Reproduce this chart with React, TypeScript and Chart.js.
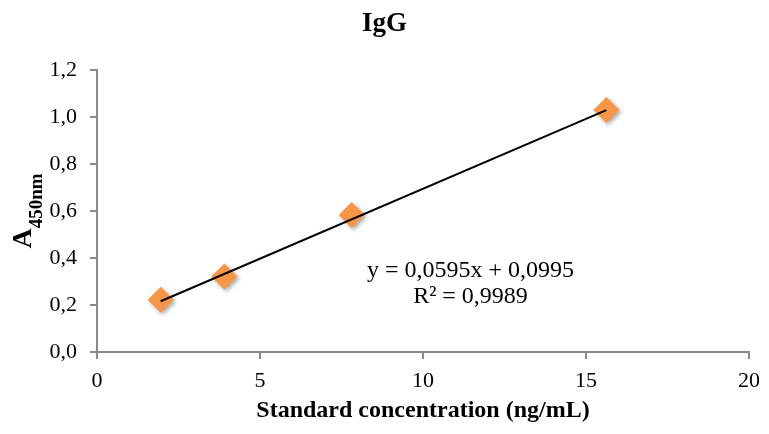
import React, { useEffect, useRef } from 'react';
import { Chart, registerables } from 'chart.js';

Chart.register(...registerables);

// ---- data ----
const CONCENTRATION = [1.953, 3.906, 7.8125, 15.625];
const ABSORBANCE = [0.222, 0.321, 0.583, 1.03];
const TREND_X = [1.953, 15.625];
const TREND_Y = [0.216, 1.029];
const X_TICKS = [0, 5, 10, 15, 20];
const X_TICK_LABELS = ['0', '5', '10', '15', '20'];
const Y_TICKS = [0, 0.2, 0.4, 0.6, 0.8, 1.0, 1.2];
const Y_TICK_LABELS = ['0,0', '0,2', '0,4', '0,6', '0,8', '1,0', '1,2'];
const TITLE = 'IgG';
const X_TITLE = 'Standard concentration (ng/mL)';
const Y_TITLE = 'A';
const Y_TITLE_SUB = '450nm';
const EQUATION_LINES = ['y = 0,0595x + 0,0995', 'R² = 0,9989'];

const SERIF = "'Liberation Serif', 'Times New Roman', serif";
const AXIS_GRAY = '#898989';
const MARKER = '#F79646';

const textPlugin = {
  id: 'textPlugin',
  afterDraw(chart: any) {
    const ctx = chart.ctx as CanvasRenderingContext2D;
    const ca = chart.chartArea;
    ctx.save();
    ctx.fillStyle = '#000';

    // title
    ctx.font = `bold 27px ${SERIF}`;
    ctx.textAlign = 'center';
    ctx.textBaseline = 'alphabetic';
    ctx.fillText(TITLE, chart.width / 2, 31);

    // x title
    ctx.font = `bold 24px ${SERIF}`;
    ctx.textBaseline = 'middle';
    ctx.fillText(X_TITLE, (ca.left + ca.right) / 2, 411);

    // equation
    ctx.font = `24px ${SERIF}`;
    ctx.textBaseline = 'alphabetic';
    ctx.fillText(EQUATION_LINES[0], 470.5, 277);
    ctx.fillText(EQUATION_LINES[1], 470.5, 303);

    // y title, rotated, with subscript
    ctx.font = `bold 28px ${SERIF}`;
    const wA = ctx.measureText(Y_TITLE).width;
    ctx.font = `bold 19px ${SERIF}`;
    const wS = ctx.measureText(Y_TITLE_SUB).width;
    const total = wA + wS;
    const cy = (ca.top + ca.bottom) / 2;
    ctx.translate(31, cy + total / 2);
    ctx.rotate(-Math.PI / 2);
    ctx.textAlign = 'left';
    ctx.font = `bold 28px ${SERIF}`;
    ctx.fillText(Y_TITLE, 0, 0);
    ctx.font = `bold 19px ${SERIF}`;
    ctx.fillText(Y_TITLE_SUB, wA, 11);
    ctx.restore();
  },
};

const shadowPlugin = {
  id: 'markerShadow',
  beforeDatasetDraw(chart: any, args: any) {
    if (args.meta.type === 'scatter' && !args.meta._dataset.showLine) {
      const ctx = chart.ctx;
      ctx.save();
      ctx.shadowColor = 'rgba(0,0,0,0.35)';
      ctx.shadowBlur = 4;
      ctx.shadowOffsetX = 2;
      ctx.shadowOffsetY = 2;
    }
  },
  afterDatasetDraw(chart: any, args: any) {
    if (args.meta.type === 'scatter' && !args.meta._dataset.showLine) {
      chart.ctx.restore();
    }
  },
};

export default function App() {
  const ref = useRef<HTMLCanvasElement>(null);

  useEffect(() => {
    if (!ref.current) return;
    const chart = new Chart(ref.current, {
      type: 'scatter',
      data: {
        datasets: [
          {
            label: 'Trend',
            data: TREND_X.map((x, i) => ({ x, y: TREND_Y[i] })),
            showLine: true,
            borderColor: '#000',
            borderWidth: 2,
            pointRadius: 0,
            order: 0,
          },
          {
            label: 'IgG',
            data: CONCENTRATION.map((x, i) => ({ x, y: ABSORBANCE[i] })),
            showLine: false,
            pointStyle: 'rectRot',
            pointRadius: 13,
            backgroundColor: MARKER,
            borderColor: MARKER,
            borderWidth: 0,
            order: 1,
          },
        ],
      },
      options: {
        responsive: false,
        animation: false,
        events: [],
        layout: { padding: { top: 70, right: 17, bottom: 0, left: 0 } },
        plugins: {
          legend: { display: false },
          tooltip: { enabled: false },
          title: { display: false },
        },
        scales: {
          x: {
            type: 'linear',
            min: 0,
            max: 20,
            afterBuildTicks: (s: any) => {
              s.ticks = X_TICKS.map((v) => ({ value: v }));
            },
            afterFit: (s: any) => {
              s.height = 82;
            },
            ticks: {
              autoSkip: false,
              maxRotation: 0,
              padding: 9,
              color: '#000',
              font: { family: SERIF, size: 22 },
              callback: (v: any) => X_TICK_LABELS[X_TICKS.indexOf(Number(v))],
            },
            grid: {
              display: true,
              drawOnChartArea: false,
              drawTicks: true,
              tickLength: 7,
              color: AXIS_GRAY,
              lineWidth: 2,
            },
            border: { display: true, color: AXIS_GRAY, width: 2 },
          },
          y: {
            type: 'linear',
            min: 0,
            max: 1.2,
            afterBuildTicks: (s: any) => {
              s.ticks = Y_TICKS.map((v) => ({ value: v }));
            },
            afterFit: (s: any) => {
              s.width = 97;
            },
            ticks: {
              autoSkip: false,
              padding: 13,
              color: '#000',
              font: { family: SERIF, size: 22 },
              callback: (v: any, i: number) => Y_TICK_LABELS[i],
            },
            grid: {
              display: true,
              drawOnChartArea: false,
              drawTicks: true,
              tickLength: 7,
              color: AXIS_GRAY,
              lineWidth: 2,
            },
            border: { display: true, color: AXIS_GRAY, width: 2 },
          },
        },
      },
      plugins: [shadowPlugin, textPlugin],
    });
    return () => chart.destroy();
  }, []);

  return (
    <div style={{ position: 'fixed', left: 0, top: 0, width: 769, height: 434, background: '#fff' }}>
      <canvas ref={ref} width={769} height={434} style={{ display: 'block' }} />
    </div>
  );
}
